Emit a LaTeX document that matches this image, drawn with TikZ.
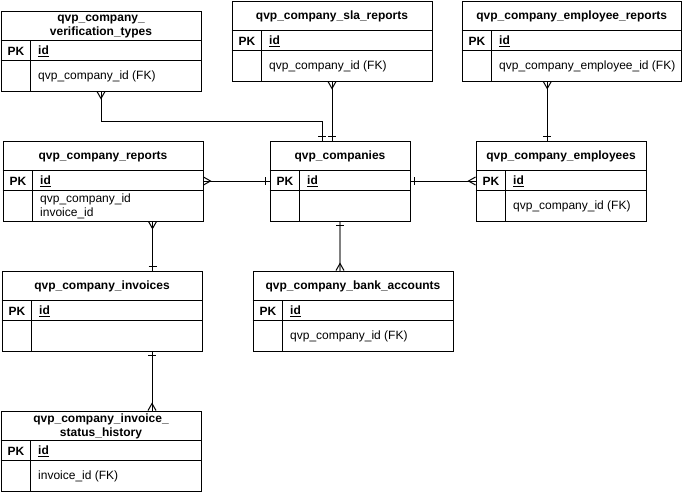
\documentclass[tikz,border=0pt]{standalone}
\usepackage{fontspec}
\setmainfont{Liberation Sans}
\usetikzlibrary{calc}
\tikzset{
  ertable/.style={draw, line width=1pt, inner sep=0pt, anchor=north west, minimum height=80pt},
  ertitle/.style={font=\fontsize{12}{14}\selectfont\bfseries, align=center, inner sep=0pt},
  erpk/.style={font=\fontsize{12}{14}\selectfont\bfseries, anchor=west, inner sep=0pt},
  erfield/.style={font=\fontsize{12}{14}\selectfont, anchor=west, inner sep=0pt, align=left},
  rel/.style={line width=1pt},
  relgray/.style={line width=1.8pt, draw=black!50},
}
\newcommand\ertab[6]{% name, x, y, width, title, fields
  \node[ertable, minimum width=#4pt] (#1) at (#2,#3) {};
  \draw[line width=1pt] ([yshift=-30pt]#1.north west) -- ([yshift=-30pt]#1.north east);
  \draw[line width=1pt] ([yshift=-50pt]#1.north west) -- ([yshift=-50pt]#1.north east);
  \draw[line width=1pt] ([xshift=30pt,yshift=-30pt]#1.north west) -- ([xshift=30pt]#1.south west);
  \node[ertitle] (#1-t) at ([yshift=-16pt]#1.north) {#5};
  \node[erpk] (#1-pk) at ([xshift=7pt,yshift=-41pt]#1.north west) {PK};
  \node[erpk] (#1-id) at ([xshift=37.5pt,yshift=-41pt]#1.north west) {\underline{id}};
  \node[erfield] (#1-f) at ([xshift=37.5pt,yshift=-66pt]#1.north west) {#6};
}
% crow's foot: point, direction of vertex (+1 / -1)
\newcommand\crowV[2]{\draw[rel] ($(#1)+(-4,0)$) -- ($(#1)+(0,#2*7)$) -- ($(#1)+(4,0)$);}
\newcommand\crowH[2]{\draw[rel] ($(#1)+(0,-4)$) -- ($(#1)+(#2*7,0)$) -- ($(#1)+(0,4)$);}
% one-bar: point, offset along the line
\newcommand\barH[2]{\draw[rel] ($(#1)+(-4,#2)$) -- ($(#1)+(4,#2)$);}
\newcommand\barV[2]{\draw[rel] ($(#1)+(#2,-4)$) -- ($(#1)+(#2,4)$);}
\begin{document}
\begin{tikzpicture}[x=1pt,y=-1pt]
\useasboundingbox (0,0) rectangle (682,491);

\ertab{vt}{0.5}{10.5}{200}{qvp\_company\_\\verification\_types}{qvp\_company\_id (FK)}
\ertab{sla}{231.5}{0.5}{200}{qvp\_company\_sla\_reports}{qvp\_company\_id (FK)}
\ertab{er}{461.5}{0.5}{219.5}{qvp\_company\_employee\_reports}{qvp\_company\_employee\_id (FK)}
\ertab{rep}{2.5}{140.5}{200}{qvp\_company\_reports}{qvp\_company\_id\\invoice\_id}
\ertab{comp}{269.5}{140.5}{140}{qvp\_companies}{}
\ertab{emp}{475.5}{140.5}{170}{qvp\_company\_employees}{qvp\_company\_id (FK)}
\ertab{inv}{1.5}{270.5}{200}{qvp\_company\_invoices}{}
\ertab{bank}{252.5}{270.5}{200}{qvp\_company\_bank\_accounts}{qvp\_company\_id (FK)}
\ertab{sh}{0.5}{410.5}{200}{qvp\_company\_invoice\_\\status\_history}{invoice\_id (FK)}

% verification_types -> companies
\draw[rel] (vt.south) coordinate (c1a) -- ++(0,30) -| ([xshift=-18pt]comp.north) coordinate (c1b);
\crowV{c1a}{1}
\barH{c1b}{-4}

% sla_reports -> companies
\draw[rel] (sla.south) coordinate (c2a) -- (sla.south |- comp.north) coordinate (c2b);
\crowV{c2a}{1}
\barH{c2b}{-4}

% reports -> companies
\draw[rel] (rep.east) coordinate (c3a) -- (comp.west) coordinate (c3b);
\crowH{c3a}{1}
\barV{c3b}{-4}

% companies -> employees
\draw[rel] (comp.east) coordinate (c4a) -- (emp.west) coordinate (c4b);
\barV{c4a}{4}
\crowH{c4b}{-1}

% employee_reports -> employees
\draw[rel] ([xshift=-24.5pt]er.south) coordinate (c5a) -- (c5a |- emp.north) coordinate (c5b);
\crowV{c5a}{1}
\barH{c5b}{-4}

% reports -> invoices
\draw[rel] ([xshift=49.5pt]rep.south) coordinate (c6a) -- (c6a |- inv.north) coordinate (c6b);
\crowV{c6a}{1}
\barH{c6b}{-4}

% companies -> bank_accounts
\draw[relgray] (comp.south) coordinate (c7a) -- (comp.south |- bank.north) coordinate (c7b);
\barH{c7a}{4}
\crowV{c7b}{-1}

% invoices -> status_history
\draw[rel] ([xshift=50pt]inv.south) coordinate (c8a) -- (c8a |- sh.north) coordinate (c8b);
\barH{c8a}{4}
\crowV{c8b}{-1}
\end{tikzpicture}
\end{document}
